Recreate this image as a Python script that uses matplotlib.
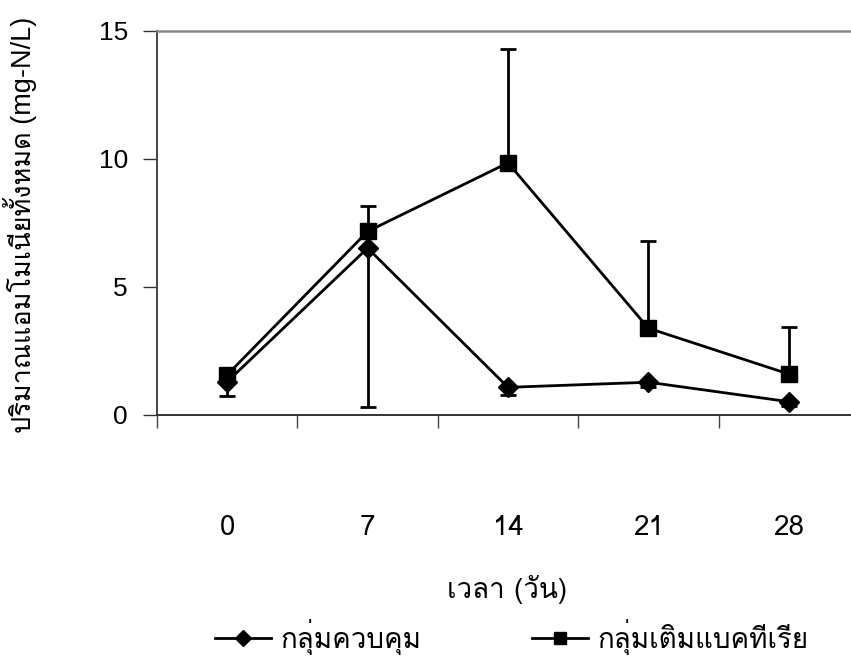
import numpy as np
import matplotlib.pyplot as plt
from matplotlib import font_manager
from matplotlib.ft2font import FT2Font
from matplotlib.lines import Line2D

# ปริมาณแอมโมเนียทั้งหมด (mg-N/L) ตามเวลา
days = ['0', '7', '14', '21', '28']
control = [1.30, 6.52, 1.08, 1.28, 0.52]
control_err = [0.55, 6.19, 0.30, 0.18, 0.17]
bacteria = [1.57, 7.17, 9.85, 3.39, 1.60]
bacteria_err = [0.10, 0.98, 4.44, 3.41, 1.83]
series_names = ['กลุ่มควบคุม', 'กลุ่มเติมแบคทีเรีย']


def find_thai_family():
    """คืนชื่อฟอนต์ตัวแรกที่มีอักษรไทย"""
    for f in font_manager.fontManager.ttflist:
        try:
            if 0x0E01 in FT2Font(f.fname).get_charmap():
                return f.name
        except Exception:
            pass
    return 'DejaVu Sans'


thai = find_thai_family()
plain = ['Liberation Sans', thai, 'DejaVu Sans']
narrow = ['Liberation Sans Narrow', thai, 'DejaVu Sans']

fig = plt.figure(figsize=(8.51, 6.62), dpi=100)
ax = fig.add_axes([157 / 851, 247 / 662, 702 / 851, 384 / 662])

x = np.arange(len(days))
zeros = np.zeros(len(days))
lw = 2.0

# กลุ่มควบคุมแสดงค่าคลาดเคลื่อนด้านล่าง กลุ่มเติมแบคทีเรียแสดงด้านบน
ax.errorbar(x, control, yerr=[control_err, zeros], color='black', lw=lw,
            marker='D', markersize=10, capsize=6, capthick=lw, elinewidth=lw)
ax.errorbar(x, bacteria, yerr=[zeros, bacteria_err], color='black', lw=lw,
            marker='s', markersize=11, capsize=6, capthick=lw, elinewidth=lw)

ax.set_xlim(-0.5, len(days) - 0.5)
ax.set_ylim(0, 15)
ax.set_yticks([0, 5, 10, 15])

# ขีดแบ่งอยู่ระหว่างหมวด ป้ายอยู่กลางหมวด
ax.set_xticks(np.arange(-0.5, len(days), 1))
ax.set_xticklabels([])
ax.set_xticks(x, minor=True)
ax.set_xticklabels(days, minor=True, family=narrow, fontsize=20)
ax.tick_params(axis='x', which='minor', length=0, pad=72)
ax.tick_params(axis='x', which='major', length=9.5, width=1, color='#444444')
ax.tick_params(axis='y', length=10, width=1, color='#333333', pad=11,
               labelsize=19)
for lab in ax.get_yticklabels():
    lab.set_family(plain)

ax.spines['left'].set_color('#444444')
ax.spines['bottom'].set_color('#333333')
ax.spines['left'].set_linewidth(1.4)
ax.spines['bottom'].set_linewidth(1.4)
ax.spines['top'].set_color('#888888')
ax.spines['top'].set_linewidth(1.8)
ax.spines['right'].set_visible(False)

fig.text(20 / 851, 1 - 225 / 662, 'ปริมาณแอมโมเนียทั้งหมด (mg-N/L)',
         rotation=90, ha='center', va='center', fontsize=19.5, family=plain)
fig.text(507 / 851, 1 - 590 / 662, 'เวลา (วัน)', ha='center', va='center',
         fontsize=20, family=narrow)

handles = [Line2D([0], [0], color='black', lw=lw, marker='D', markersize=8),
           Line2D([0], [0], color='black', lw=lw, marker='s', markersize=9)]
fig.legend(handles, series_names, loc='center',
           bbox_to_anchor=(512 / 851, 1 - 637 / 662),
           ncol=2, frameon=False, handlelength=2.0, handletextpad=0.35,
           columnspacing=4.0, prop={'family': narrow, 'size': 20})

fig.savefig('out.png', dpi=100)
